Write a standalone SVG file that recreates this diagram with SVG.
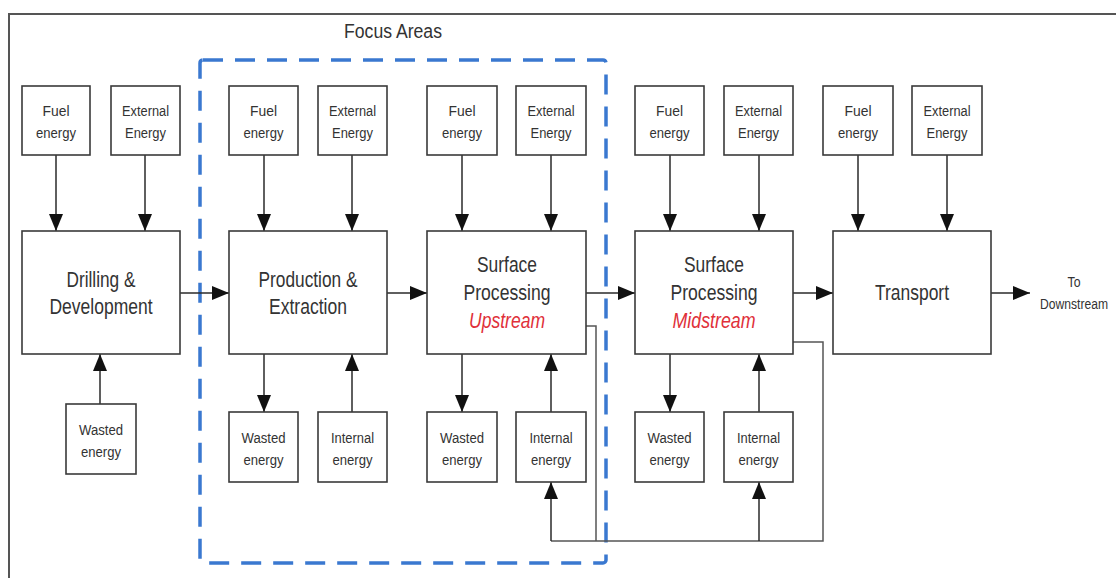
<svg xmlns="http://www.w3.org/2000/svg" width="1116" height="578" viewBox="0 0 1116 578">
<style>
.bx{fill:#fff;stroke:#3a3a3a;stroke-width:1.6}
.ln{fill:none;stroke:#2a2a2a;stroke-width:1.5}
.fb{fill:none;stroke:#555;stroke-width:1.5}
.s{font-family:"Liberation Sans",Arial,sans-serif;font-size:15.5px;fill:#333;text-anchor:middle}
.m{font-family:"Liberation Sans",Arial,sans-serif;font-size:22.5px;fill:#333;text-anchor:middle}
.r{fill:#e0303a;font-style:italic}
</style>
<defs>
<marker id="ah" viewBox="0 0 17 14" refX="17" refY="7" markerWidth="17" markerHeight="14" markerUnits="userSpaceOnUse" orient="auto">
<path d="M0,0 L17,7 L0,14 Z" fill="#111"/>
</marker>
</defs>
<rect width="1116" height="578" fill="#fff"/>
<path d="M9,578 V14 H1116" fill="none" stroke="#555" stroke-width="2"/>
<g id="focus">
<rect x="200" y="60" width="406" height="503" rx="3" fill="none" stroke="#3a78d0" stroke-width="3.5" stroke-dasharray="20 12"/>
<text x="393" y="38" font-family="'Liberation Sans',Arial,sans-serif" font-size="20" fill="#333" text-anchor="middle" textLength="98" lengthAdjust="spacingAndGlyphs">Focus Areas</text>
</g>
<g id="connectors">
<line class="ln" x1="56" y1="155" x2="56" y2="231" marker-end="url(#ah)"/>
<line class="ln" x1="145" y1="155" x2="145" y2="231" marker-end="url(#ah)"/>
<line class="ln" x1="264" y1="155" x2="264" y2="231" marker-end="url(#ah)"/>
<line class="ln" x1="352" y1="155" x2="352" y2="231" marker-end="url(#ah)"/>
<line class="ln" x1="462" y1="155" x2="462" y2="231" marker-end="url(#ah)"/>
<line class="ln" x1="551" y1="155" x2="551" y2="231" marker-end="url(#ah)"/>
<line class="ln" x1="670" y1="155" x2="670" y2="231" marker-end="url(#ah)"/>
<line class="ln" x1="759" y1="155" x2="759" y2="231" marker-end="url(#ah)"/>
<line class="ln" x1="858" y1="155" x2="858" y2="231" marker-end="url(#ah)"/>
<line class="ln" x1="947" y1="155" x2="947" y2="231" marker-end="url(#ah)"/>
<line class="ln" x1="180" y1="293" x2="229" y2="293" marker-end="url(#ah)"/>
<line class="ln" x1="387" y1="293" x2="427" y2="293" marker-end="url(#ah)"/>
<line class="ln" x1="586" y1="293" x2="635" y2="293" marker-end="url(#ah)"/>
<line class="ln" x1="793" y1="293" x2="833" y2="293" marker-end="url(#ah)"/>
<line class="ln" x1="991" y1="293" x2="1030" y2="293" marker-end="url(#ah)"/>
<line class="ln" x1="100" y1="404" x2="100" y2="354" marker-end="url(#ah)"/>
<line class="ln" x1="264" y1="354" x2="264" y2="412" marker-end="url(#ah)"/>
<line class="ln" x1="352" y1="412" x2="352" y2="354" marker-end="url(#ah)"/>
<line class="ln" x1="462" y1="354" x2="462" y2="412" marker-end="url(#ah)"/>
<line class="ln" x1="551" y1="412" x2="551" y2="354" marker-end="url(#ah)"/>
<line class="ln" x1="670" y1="354" x2="670" y2="412" marker-end="url(#ah)"/>
<line class="ln" x1="759" y1="412" x2="759" y2="354" marker-end="url(#ah)"/>
<polyline class="fb" points="586,326 596,326 596,541"/>
<polyline class="fb" points="793,342 823,342 823,541 551,541"/>
<line class="ln" x1="551" y1="541" x2="551" y2="482" marker-end="url(#ah)"/>
<line class="ln" x1="759" y1="541" x2="759" y2="482" marker-end="url(#ah)"/>
</g>
<g id="fuel1"><rect class="bx" x="22" y="86" width="68" height="69"/><text class="s" x="56" y="116" textLength="27" lengthAdjust="spacingAndGlyphs">Fuel</text><text class="s" x="56" y="138" textLength="40" lengthAdjust="spacingAndGlyphs">energy</text></g>
<g id="ext1"><rect class="bx" x="111" y="86" width="69" height="69"/><text class="s" x="145.5" y="116" textLength="47" lengthAdjust="spacingAndGlyphs">External</text><text class="s" x="145.5" y="138" textLength="41" lengthAdjust="spacingAndGlyphs">Energy</text></g>
<g id="fuel2"><rect class="bx" x="229" y="86" width="69" height="69"/><text class="s" x="263.5" y="116" textLength="27" lengthAdjust="spacingAndGlyphs">Fuel</text><text class="s" x="263.5" y="138" textLength="40" lengthAdjust="spacingAndGlyphs">energy</text></g>
<g id="ext2"><rect class="bx" x="318" y="86" width="69" height="69"/><text class="s" x="352.5" y="116" textLength="47" lengthAdjust="spacingAndGlyphs">External</text><text class="s" x="352.5" y="138" textLength="41" lengthAdjust="spacingAndGlyphs">Energy</text></g>
<g id="fuel3"><rect class="bx" x="427" y="86" width="70" height="69"/><text class="s" x="462" y="116" textLength="27" lengthAdjust="spacingAndGlyphs">Fuel</text><text class="s" x="462" y="138" textLength="40" lengthAdjust="spacingAndGlyphs">energy</text></g>
<g id="ext3"><rect class="bx" x="516" y="86" width="70" height="69"/><text class="s" x="551" y="116" textLength="47" lengthAdjust="spacingAndGlyphs">External</text><text class="s" x="551" y="138" textLength="41" lengthAdjust="spacingAndGlyphs">Energy</text></g>
<g id="fuel4"><rect class="bx" x="635" y="86" width="69" height="69"/><text class="s" x="669.5" y="116" textLength="27" lengthAdjust="spacingAndGlyphs">Fuel</text><text class="s" x="669.5" y="138" textLength="40" lengthAdjust="spacingAndGlyphs">energy</text></g>
<g id="ext4"><rect class="bx" x="724" y="86" width="69" height="69"/><text class="s" x="758.5" y="116" textLength="47" lengthAdjust="spacingAndGlyphs">External</text><text class="s" x="758.5" y="138" textLength="41" lengthAdjust="spacingAndGlyphs">Energy</text></g>
<g id="fuel5"><rect class="bx" x="823" y="86" width="70" height="69"/><text class="s" x="858" y="116" textLength="27" lengthAdjust="spacingAndGlyphs">Fuel</text><text class="s" x="858" y="138" textLength="40" lengthAdjust="spacingAndGlyphs">energy</text></g>
<g id="ext5"><rect class="bx" x="912" y="86" width="70" height="69"/><text class="s" x="947" y="116" textLength="47" lengthAdjust="spacingAndGlyphs">External</text><text class="s" x="947" y="138" textLength="41" lengthAdjust="spacingAndGlyphs">Energy</text></g>
<g id="drilling"><rect class="bx" x="22" y="231" width="158" height="123"/><text class="m" x="101" y="287" textLength="69" lengthAdjust="spacingAndGlyphs">Drilling &amp;</text><text class="m" x="101" y="314" textLength="103" lengthAdjust="spacingAndGlyphs">Development</text></g>
<g id="production"><rect class="bx" x="229" y="231" width="158" height="123"/><text class="m" x="308" y="287" textLength="99" lengthAdjust="spacingAndGlyphs">Production &amp;</text><text class="m" x="308" y="314" textLength="78" lengthAdjust="spacingAndGlyphs">Extraction</text></g>
<g id="upstream"><rect class="bx" x="427" y="231" width="159" height="123"/><text class="m" x="507" y="272" textLength="60" lengthAdjust="spacingAndGlyphs">Surface</text><text class="m" x="507" y="300" textLength="87" lengthAdjust="spacingAndGlyphs">Processing</text><text class="m r" x="507" y="328" textLength="76" lengthAdjust="spacingAndGlyphs">Upstream</text></g>
<g id="midstream"><rect class="bx" x="635" y="231" width="158" height="123"/><text class="m" x="714" y="272" textLength="60" lengthAdjust="spacingAndGlyphs">Surface</text><text class="m" x="714" y="300" textLength="87" lengthAdjust="spacingAndGlyphs">Processing</text><text class="m r" x="714" y="328" textLength="83" lengthAdjust="spacingAndGlyphs">Midstream</text></g>
<g id="transport"><rect class="bx" x="833" y="231" width="158" height="123"/><text class="m" x="912" y="300" textLength="74" lengthAdjust="spacingAndGlyphs">Transport</text></g>
<g id="downstream"><text class="s" x="1074" y="287" font-size="13" textLength="13" lengthAdjust="spacingAndGlyphs">To</text><text class="s" x="1074" y="309" font-size="13" textLength="68" lengthAdjust="spacingAndGlyphs">Downstream</text></g>
<g id="wasted1"><rect class="bx" x="66" y="404" width="70" height="70"/><text class="s" x="101" y="434.5" textLength="44" lengthAdjust="spacingAndGlyphs">Wasted</text><text class="s" x="101" y="456.5" textLength="40" lengthAdjust="spacingAndGlyphs">energy</text></g>
<g id="wasted2"><rect class="bx" x="229" y="412" width="69" height="70"/><text class="s" x="263.5" y="442.5" textLength="44" lengthAdjust="spacingAndGlyphs">Wasted</text><text class="s" x="263.5" y="464.5" textLength="40" lengthAdjust="spacingAndGlyphs">energy</text></g>
<g id="internal2"><rect class="bx" x="318" y="412" width="69" height="70"/><text class="s" x="352.5" y="442.5" textLength="43" lengthAdjust="spacingAndGlyphs">Internal</text><text class="s" x="352.5" y="464.5" textLength="40" lengthAdjust="spacingAndGlyphs">energy</text></g>
<g id="wasted3"><rect class="bx" x="427" y="412" width="70" height="70"/><text class="s" x="462" y="442.5" textLength="44" lengthAdjust="spacingAndGlyphs">Wasted</text><text class="s" x="462" y="464.5" textLength="40" lengthAdjust="spacingAndGlyphs">energy</text></g>
<g id="internal3"><rect class="bx" x="516" y="412" width="70" height="70"/><text class="s" x="551" y="442.5" textLength="43" lengthAdjust="spacingAndGlyphs">Internal</text><text class="s" x="551" y="464.5" textLength="40" lengthAdjust="spacingAndGlyphs">energy</text></g>
<g id="wasted4"><rect class="bx" x="635" y="412" width="69" height="70"/><text class="s" x="669.5" y="442.5" textLength="44" lengthAdjust="spacingAndGlyphs">Wasted</text><text class="s" x="669.5" y="464.5" textLength="40" lengthAdjust="spacingAndGlyphs">energy</text></g>
<g id="internal4"><rect class="bx" x="724" y="412" width="69" height="70"/><text class="s" x="758.5" y="442.5" textLength="43" lengthAdjust="spacingAndGlyphs">Internal</text><text class="s" x="758.5" y="464.5" textLength="40" lengthAdjust="spacingAndGlyphs">energy</text></g>
</svg>
